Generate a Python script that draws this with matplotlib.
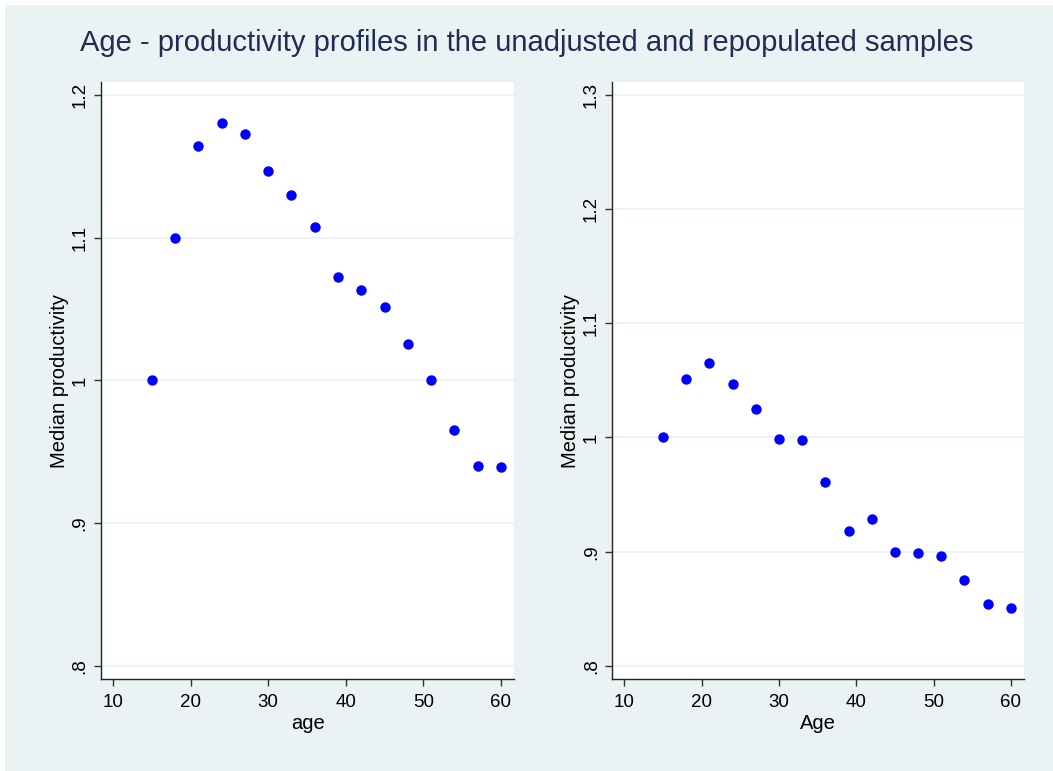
import matplotlib.pyplot as plt
import matplotlib.patches as mpatches

plt.rcParams['font.family'] = ['Liberation Sans', 'DejaVu Sans']

BG = "#eaf2f3"
TITLE = "Age - productivity profiles in the unadjusted and repopulated samples"

age = [15, 18, 21, 24, 27, 30, 33, 36, 39, 42, 45, 48, 51, 54, 57, 60]
prod_unadj = [1.0, 1.1, 1.164, 1.180, 1.1725, 1.1466, 1.1296, 1.1075,
              1.0723, 1.0634, 1.0513, 1.0255, 1.0, 0.965, 0.940, 0.939]
prod_repop = [1.0, 1.0513, 1.065, 1.0469, 1.0248, 0.9986, 0.9974, 0.961,
              0.918, 0.9283, 0.900, 0.8988, 0.8965, 0.875, 0.854, 0.851]

xticks = [10, 20, 30, 40, 50, 60]
yticks_left = [0.8, 0.9, 1.0, 1.1, 1.2]
ylabels_left = [".8", ".9", "1", "1.1", "1.2"]
yticks_right = [0.8, 0.9, 1.0, 1.1, 1.2, 1.3]
ylabels_right = [".8", ".9", "1", "1.1", "1.2", "1.3"]

fig = plt.figure(figsize=(10.53, 7.71), dpi=100, facecolor=BG)
# thin white strips at the top and left edge, as in the original export
fig.add_artist(mpatches.Rectangle((0, 1 - 5 / 771), 1, 5 / 771,
                                  transform=fig.transFigure,
                                  facecolor="white", edgecolor="none"))
fig.add_artist(mpatches.Rectangle((0, 0), 5 / 1053, 1,
                                  transform=fig.transFigure,
                                  facecolor="white", edgecolor="none"))

fig.text(0.5, 1 - 43 / 771, TITLE, ha="center", va="center",
         fontsize=21, color="#1e2d53")


def panel(rect, y, ylim, yticks, ylabels, xlabel):
    ax = fig.add_axes(rect)
    ax.set_facecolor("white")
    ax.plot(age, y, linestyle="none", marker="o", markersize=7.5,
            color="#0000ff", markeredgewidth=0, zorder=3)
    ax.set_xlim(8.43, 61.7)
    ax.set_ylim(*ylim)
    ax.set_xticks(xticks)
    ax.set_xticklabels([str(t) for t in xticks], fontsize=13.5)
    ax.set_yticks(yticks)
    ax.set_yticklabels(ylabels, fontsize=13.5, rotation=90, va="center")
    ax.grid(True, axis="y", color=BG, linewidth=1.3)
    ax.set_axisbelow(True)
    for s in ["top", "right"]:
        ax.spines[s].set_visible(False)
    for s in ["left", "bottom"]:
        ax.spines[s].set_color("#222222")
        ax.spines[s].set_linewidth(1.0)
    ax.tick_params(direction="out", length=5, width=1.0, color="#333333")
    ax.tick_params(axis="x", pad=6)
    ax.tick_params(axis="y", pad=4)
    ax.set_xlabel(xlabel, fontsize=14.5, labelpad=2)
    ax.set_ylabel("Median productivity", fontsize=14.5, labelpad=2)
    return ax


bottom = 92 / 771
height = (679 - 82) / 771
panel([101 / 1053, bottom, 413 / 1053, height], prod_unadj,
      (0.7909, 1.2089), yticks_left, ylabels_left, "age")
panel([612.3 / 1053, bottom, 411.7 / 1053, height], prod_repop,
      (0.7886, 1.311), yticks_right, ylabels_right, "Age")

fig.savefig("out.png", dpi=100, facecolor=fig.get_facecolor())
